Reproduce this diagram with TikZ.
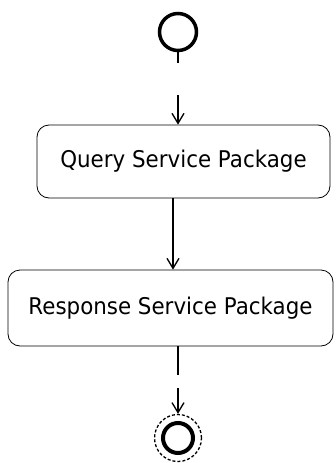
\documentclass[tikz,border=0pt]{standalone}
\usepackage{fontspec}
\setmainfont{DejaVu Sans}
\usetikzlibrary{arrows.meta}
\begin{document}
\begin{tikzpicture}[x=1pt,y=-1pt,
  actbox/.style={draw, line width=0.8pt, rounded corners=12pt, inner sep=0pt},
  flow/.style={line width=1.3pt, -{Straight Barb[length=10pt,width=12pt,line width=1.3pt]}},
  lbl/.style={font=\fontsize{23}{26}\selectfont}]
\useasboundingbox (0,0) rectangle (335,463);
\node[circle, draw, line width=3.5pt, minimum size=37pt, inner sep=0pt] (start) at (178,32) {};
\node[actbox, lbl, minimum width=293pt, minimum height=73pt] (q) at (183.5,161.5) {\scalebox{0.93}[1]{Query Service Package}};
\node[actbox, lbl, minimum width=325pt, minimum height=76pt] (r) at (170.5,308) {\scalebox{0.93}[1]{Response Service Package}};
\node[circle, draw, densely dashed, line width=1.3pt, minimum size=47pt, inner sep=0pt] (eo) at (178,438) {};
\node[circle, draw, line width=4pt, minimum size=30pt, inner sep=0pt] (ei) at (178,438) {};
\coordinate (mx) at (173,0);
\draw[flow, dash pattern=on 11pt off 32pt on 40pt] (start.south) -- (start.south |- q.north);
\draw[flow] (q.south -| mx) -- (r.north -| mx);
\draw[flow, dash pattern=on 29pt off 13pt on 40pt] (r.south -| eo) -- (eo.north);
\end{tikzpicture}
\end{document}
